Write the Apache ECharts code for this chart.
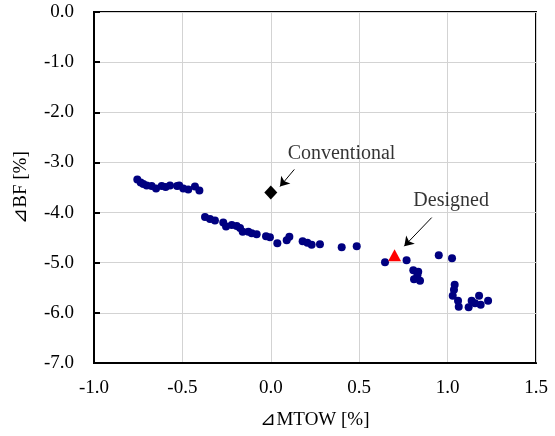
<!DOCTYPE html>
<html>
<head>
<meta charset="utf-8">
<script src="https://cdn.jsdelivr.net/npm/echarts@6/dist/echarts.min.js"></script>
<style>
html, body { margin: 0; padding: 0; background: #fff; }
#main { width: 555px; height: 436px; }
</style>
</head>
<body>
<div id="main"></div>
<script>
// 点群データ [⊿MTOW, ⊿BF]
var cloudX = [-0.755, -0.736, -0.721, -0.702, -0.674, -0.649, -0.617, -0.595, -0.570, -0.530, -0.518, -0.495, -0.467, -0.429, -0.404,
    -0.372, -0.344, -0.316, -0.269, -0.253, -0.221, -0.193, -0.174, -0.159, -0.127, -0.108, -0.080, -0.027, -0.005,
    0.037, 0.090, 0.105, 0.180, 0.207, 0.231, 0.278, 0.401, 0.486,
    0.646, 0.768, 0.806, 0.834, 0.829, 0.810, 0.844, 0.950, 1.025,
    1.040, 1.036, 1.029, 1.059, 1.063, 1.119, 1.136, 1.155, 1.178, 1.187, 1.229];
var cloudY = [-3.34, -3.40, -3.43, -3.46, -3.47, -3.52, -3.47, -3.49, -3.46, -3.47, -3.46, -3.52, -3.54, -3.48, -3.56,
    -4.09, -4.13, -4.16, -4.20, -4.28, -4.25, -4.27, -4.31, -4.38, -4.38, -4.41, -4.43, -4.47, -4.49,
    -4.61, -4.55, -4.48, -4.57, -4.60, -4.64, -4.63, -4.69, -4.67,
    -4.99, -4.95, -5.15, -5.18, -5.25, -5.33, -5.36, -4.85, -4.91,
    -5.44, -5.54, -5.66, -5.76, -5.88, -5.89, -5.76, -5.81, -5.66, -5.84, -5.76];

var conventional = [0.0, -3.60];
var designed = [0.70, -4.85];

// 注記
var noteNames = ['Conventional', 'Designed'];
var notePos = [[0.40, -2.83], [1.02, -3.77]];
var arrowFrom = [[0.133, -3.14], [0.910, -4.10]];
var arrowTo = [[0.052, -3.48], [0.755, -4.67]];

var xTicks = { min: -1.0, max: 1.5, step: 0.5 };
var yTicks = { min: -7.0, max: 0.0, step: 1.0 };

var cloud = [];
for (var i = 0; i < cloudX.length; i++) {
    cloud.push([cloudX[i], cloudY[i]]);
}
var notes = [];
var arrows = [];
for (var j = 0; j < noteNames.length; j++) {
    notes.push({ value: notePos[j], name: noteNames[j] });
    arrows.push([{ coord: arrowFrom[j] }, { coord: arrowTo[j] }]);
}

var font = 'Liberation Serif, Times New Roman, serif';
var chart = echarts.init(document.getElementById('main'));

option = {
    animation: false,
    grid: {
        left: 94, right: 19, top: 12, bottom: 73,
        show: true,
        borderColor: '#000',
        borderWidth: 2
    },
    xAxis: {
        type: 'value',
        min: xTicks.min, max: xTicks.max, interval: xTicks.step,
        name: '⊿MTOW [%]',
        nameLocation: 'middle',
        nameGap: 48,
        nameTextStyle: { fontFamily: font, fontSize: 19, color: '#000' },
        axisLine: { onZero: false, lineStyle: { color: '#000', width: 2 } },
        axisTick: { show: false },
        axisLabel: {
            fontFamily: font, fontSize: 19, color: '#000', margin: 16,
            formatter: function (v) { return v.toFixed(1); }
        },
        splitLine: { lineStyle: { color: '#d3d3d3', width: 1 } }
    },
    yAxis: {
        type: 'value',
        min: yTicks.min, max: yTicks.max, interval: yTicks.step,
        name: '⊿BF [%]',
        nameLocation: 'middle',
        nameGap: 63,
        nameTextStyle: { fontFamily: font, fontSize: 19, color: '#000' },
        axisLine: { onZero: false, lineStyle: { color: '#000', width: 2 } },
        axisTick: { show: true, inside: true, length: 6, lineStyle: { color: '#000', width: 2 } },
        axisLabel: {
            fontFamily: font, fontSize: 19, color: '#000', margin: 20,
            formatter: function (v) { return v.toFixed(1); }
        },
        splitLine: { lineStyle: { color: '#d3d3d3', width: 1 } }
    },
    series: [
        {
            type: 'scatter',
            data: cloud,
            symbol: 'circle',
            symbolSize: 8,
            itemStyle: { color: '#000080', opacity: 1 }
        },
        {
            type: 'scatter',
            data: [conventional],
            symbol: 'diamond',
            symbolSize: [13, 14],
            itemStyle: { color: '#000', opacity: 1 }
        },
        {
            type: 'scatter',
            data: [designed],
            symbol: 'triangle',
            symbolSize: [13, 12],
            itemStyle: { color: '#ff0000', opacity: 1 }
        },
        {
            type: 'scatter',
            data: notes,
            symbolSize: 0,
            label: {
                show: true,
                position: 'inside',
                formatter: '{b}',
                fontFamily: font,
                fontSize: 20,
                color: '#000'
            },
            markLine: {
                silent: true,
                symbol: ['none', 'arrow'],
                symbolSize: 9,
                label: { show: false },
                lineStyle: { color: '#000', width: 1, type: 'solid' },
                data: arrows
            }
        }
    ]
};

chart.setOption(option);
</script>
</body>
</html>
